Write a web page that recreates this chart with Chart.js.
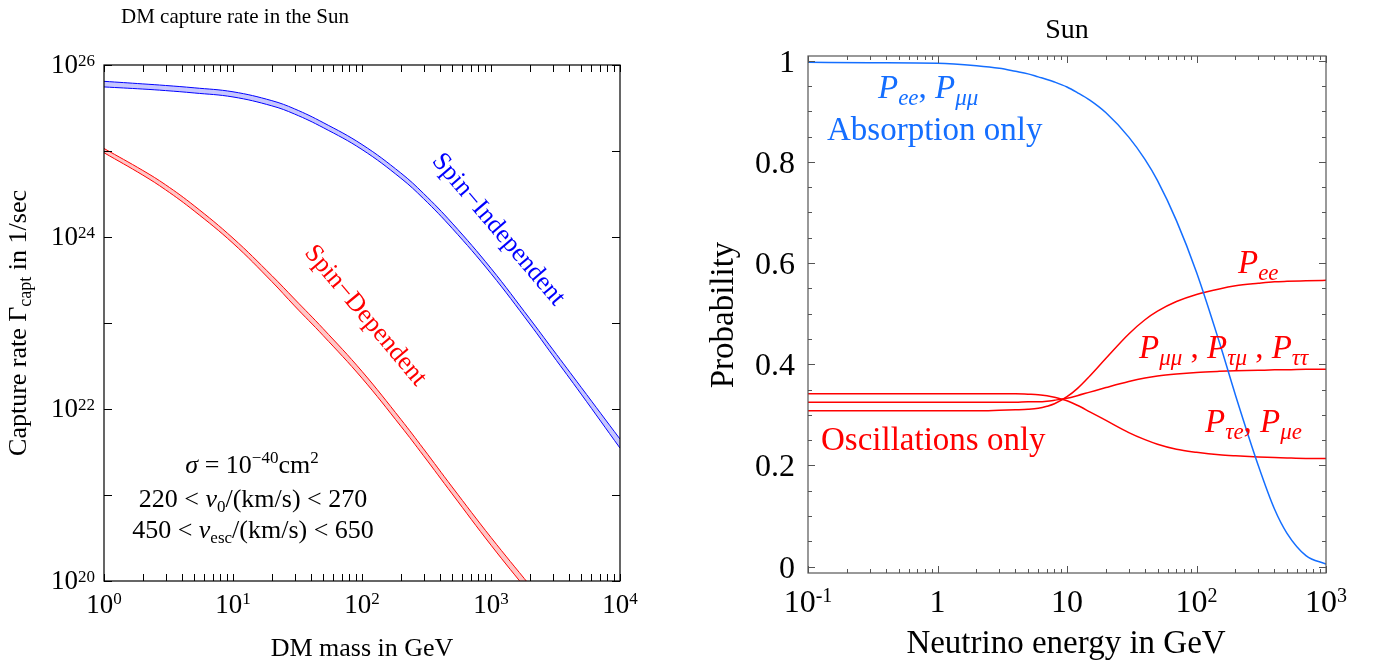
<!DOCTYPE html>
<html>
<head>
<meta charset="utf-8">
<script src="https://cdn.jsdelivr.net/npm/chart.js@4.4.0/dist/chart.umd.min.js"></script>
<style>
  html, body { margin: 0; padding: 0; background: #fff; }
  #wrap { position: relative; width: 1374px; height: 665px; }
  canvas { position: absolute; top: 0; }
  #left { left: 0; }
  #right { left: 687px; }
</style>
</head>
<body>
<div id="wrap">
  <canvas id="left" width="687" height="665"></canvas>
  <canvas id="right" width="687" height="665"></canvas>
</div>
<script>
// left panel: DM capture rate (1/sec) vs DM mass (GeV), bands = upper/lower edge
const massGeV = [1, 2, 3, 5, 10, 20, 30, 50, 100, 200, 300, 500, 1000, 2000, 3000, 5000, 10000];
const siUpper = [6.46e25, 6.03e25, 5.78e25, 5.43e25, 4.88e25, 3.85e25, 3.09e25, 2.14e25, 1.19e25, 5.55e24, 3.21e24, 1.45e24, 4.32e23, 1.12e23, 4.97e22, 1.79e22, 4.47e21];
const siLower = [5.56e25, 5.25e25, 5.04e25, 4.73e25, 4.25e25, 3.35e25, 2.69e25, 1.87e25, 1.04e25, 4.83e24, 2.79e24, 1.26e24, 3.76e23, 9.73e22, 4.23e22, 1.49e22, 3.51e21];
const sdMass = [1, 2, 3, 5, 10, 20, 30, 50, 100, 200, 300, 500, 1000, 2000];
const sdUpper = [1.07e25, 5.94e24, 4.05e24, 2.31e24, 9.7e23, 3.56e23, 1.90e23, 8.59e22, 2.74e22, 7.59e21, 3.44e21, 1.24e21, 3.21e20, 8.9e19];
const sdLower = [9.55e24, 5.24e24, 3.54e24, 2.01e24, 8.45e23, 3.03e23, 1.58e23, 7.14e22, 2.28e22, 6.31e21, 2.86e21, 1.03e21, 2.61e20, 7.14e19];

const leftXTicks = [1, 10, 100, 1000, 10000];
const leftXExp = ['0', '1', '2', '3', '4'];
const leftYTicks = [1e20, 1e22, 1e24, 1e26];
const leftYExp = ['20', '22', '24', '26'];

// right panel: probabilities vs neutrino energy (GeV)
const energyGeV = [0.1, 0.3, 1, 2, 3, 4, 5, 6, 7, 8, 10, 12, 15, 20, 30, 40, 50, 70, 100, 150, 200, 300, 400, 500, 700, 1000];
const absorption = [0.997, 0.996, 0.995, 0.990, 0.985, 0.979, 0.974, 0.968, 0.963, 0.958, 0.948, 0.937, 0.922, 0.897, 0.849, 0.805, 0.763, 0.684, 0.582, 0.444, 0.339, 0.200, 0.114, 0.066, 0.022, 0.005];
const pEE = [0.308, 0.308, 0.308, 0.308, 0.309, 0.310, 0.311, 0.313, 0.317, 0.322, 0.336, 0.352, 0.377, 0.412, 0.460, 0.488, 0.505, 0.524, 0.538, 0.549, 0.555, 0.560, 0.563, 0.564, 0.565, 0.566];
const pMuMu = [0.325, 0.325, 0.325, 0.325, 0.325, 0.325, 0.326, 0.326, 0.327, 0.329, 0.333, 0.338, 0.345, 0.354, 0.366, 0.373, 0.377, 0.381, 0.384, 0.386, 0.387, 0.388, 0.389, 0.389, 0.390, 0.390];
const pTauE = [0.342, 0.342, 0.342, 0.342, 0.342, 0.342, 0.341, 0.340, 0.338, 0.335, 0.328, 0.319, 0.306, 0.289, 0.265, 0.251, 0.242, 0.232, 0.226, 0.221, 0.219, 0.217, 0.216, 0.215, 0.214, 0.214];

const rightXTicks = [0.1, 1, 10, 100, 1000];
const rightXLabels = [['10', '-1'], ['1', ''], ['10', ''], ['10', '2'], ['10', '3']];
const rightYTicks = [0, 0.2, 0.4, 0.6, 0.8, 1];
const rightYLabels = ['0', '0.2', '0.4', '0.6', '0.8', '1'];

const FONT = '"Liberation Serif", "Times New Roman", serif';
const BLUE = '#0000ff', RED = '#ff0000', SKY = 'rgb(20,110,255)';

function fnt(size, italic) {
  return (italic ? 'italic ' : '') + size + 'px ' + FONT;
}

function pts(xs, ys) {
  return xs.map((x, i) => ({ x, y: ys[i] }));
}

// parts: [text, size, italic, dy]
function richWidth(ctx, parts) {
  let w = 0;
  for (const p of parts) {
    ctx.font = fnt(p[1], p[2]);
    w += ctx.measureText(p[0]).width;
  }
  return w;
}

function drawRich(ctx, parts, x, y, align) {
  const w = richWidth(ctx, parts);
  let cx = align === 'center' ? x - w / 2 : align === 'right' ? x - w : x;
  ctx.textAlign = 'left';
  ctx.textBaseline = 'alphabetic';
  for (const p of parts) {
    ctx.font = fnt(p[1], p[2]);
    ctx.fillText(p[0], cx, y + (p[3] || 0));
    cx += ctx.measureText(p[0]).width;
  }
}

function drawRotated(ctx, parts, cx, cy, deg) {
  ctx.save();
  ctx.translate(cx, cy);
  ctx.rotate(deg * Math.PI / 180);
  drawRich(ctx, parts, 0, 0, 'center');
  ctx.restore();
}

function line(ctx, x1, y1, x2, y2) {
  ctx.beginPath();
  ctx.moveTo(x1, y1);
  ctx.lineTo(x2, y2);
  ctx.stroke();
}

function logMinor(min, max) {
  const out = [];
  for (let d = min; d < max; d *= 10) {
    for (let k = 1; k < 10; k++) out.push(d * k);
  }
  out.push(max);
  return out;
}

// italic P with a subscript
function P(sub) {
  return [['P', 33, true, 0], [sub, 23, true, 7]];
}

const leftDecor = {
  id: 'leftDecor',
  afterDatasetsDraw(chart) {
    const { ctx, chartArea: a, scales: { x, y } } = chart;
    ctx.save();
    ctx.strokeStyle = '#000';
    ctx.lineWidth = 1.2;
    ctx.strokeRect(a.left, a.top, a.right - a.left, a.bottom - a.top);

    ctx.lineWidth = 1;
    for (const v of logMinor(1, 10000)) {
      const px = Math.round(x.getPixelForValue(v)) + 0.5;
      line(ctx, px, a.bottom, px, a.bottom - 7);
      line(ctx, px, a.top, px, a.top + 7);
    }
    for (let e = 20; e <= 26; e++) {
      const py = Math.round(y.getPixelForValue(Math.pow(10, e))) + 0.5;
      line(ctx, a.left, py, a.left + 8, py);
      line(ctx, a.right, py, a.right - 8, py);
    }

    ctx.fillStyle = '#000';
    leftXTicks.forEach((v, i) => {
      drawRich(ctx, [['10', 27, false, 0], [leftXExp[i], 17, false, -9]], x.getPixelForValue(v), 613, 'center');
    });
    leftYTicks.forEach((v, i) => {
      drawRich(ctx, [['10', 27, false, 0], [leftYExp[i], 17, false, -7]], a.left - 9, y.getPixelForValue(v) + 8, 'right');
    });

    drawRich(ctx, [['DM capture rate in the Sun', 21, false, 0]], 235, 23, 'center');
    drawRich(ctx, [['DM mass in GeV', 26, false, 0]], 362, 656, 'center');
    drawRotated(ctx, [['Capture rate \u0393', 26, false, 0], ['capt', 18, false, 5], [' in 1/sec', 26, false, 0]], 26, 323, -90);

    drawRich(ctx, [['\u03c3', 26, true, 0], [' = 10', 26, false, 0], ['\u221240', 17, false, -10], ['cm', 26, false, 0], ['2', 17, false, -10]], 252, 473, 'center');
    drawRich(ctx, [['220 < ', 26, false, 0], ['v', 26, true, 0], ['0', 17, false, 5], ['/(km/s) < 270', 26, false, 0]], 253, 507, 'center');
    drawRich(ctx, [['450 < ', 26, false, 0], ['v', 26, true, 0], ['esc', 17, false, 5], ['/(km/s) < 650', 26, false, 0]], 253, 538, 'center');

    ctx.fillStyle = BLUE;
    drawRotated(ctx, [['Spin\u2212Independent', 26, false, 0]], 493, 234, 49.6);
    ctx.fillStyle = RED;
    drawRotated(ctx, [['Spin\u2212Dependent', 26, false, 0]], 360, 320, 49.9);
    ctx.restore();
  }
};

const rightDecor = {
  id: 'rightDecor',
  afterDatasetsDraw(chart) {
    const { ctx, chartArea: a, scales: { x, y } } = chart;
    ctx.save();
    ctx.strokeStyle = '#555';
    ctx.lineWidth = 1.2;
    ctx.strokeRect(a.left, a.top, a.right - a.left, a.bottom - a.top);

    ctx.lineWidth = 1;
    const majors = new Set(rightXTicks);
    for (const v of logMinor(0.1, 1000)) {
      const px = Math.round(x.getPixelForValue(v)) + 0.5;
      const len = majors.has(v) ? 7 : 4;
      line(ctx, px, a.bottom, px, a.bottom - len);
      line(ctx, px, a.top, px, a.top + len);
    }
    for (let k = 0; k <= 20; k++) {
      const py = Math.round(y.getPixelForValue(k * 0.05)) + 0.5;
      const len = k % 4 === 0 ? 7 : 4;
      line(ctx, a.left, py, a.left + len, py);
      line(ctx, a.right, py, a.right - len, py);
    }

    ctx.fillStyle = '#000';
    rightXTicks.forEach((v, i) => {
      const lab = rightXLabels[i];
      drawRich(ctx, [[lab[0], 32, false, 0], [lab[1], 20, false, -10]], x.getPixelForValue(v), 612, 'center');
    });
    rightYTicks.forEach((v, i) => {
      drawRich(ctx, [[rightYLabels[i], 32, false, 0]], 108, y.getPixelForValue(v) + 11, 'right');
    });

    drawRich(ctx, [['Sun', 28, false, 0]], 380, 38, 'center');
    drawRich(ctx, [['Neutrino energy in GeV', 33, false, 0]], 379, 653, 'center');
    drawRotated(ctx, [['Probability', 33, false, 0]], 46, 315, -90);

    const comma = [', ', 33, false, 0];
    const spacedComma = [' , ', 33, false, 0];
    ctx.fillStyle = SKY;
    drawRich(ctx, [...P('ee'), comma, ...P('\u03bc\u03bc')], 191, 98, 'left');
    drawRich(ctx, [['Absorption only', 33, false, 0]], 140, 140, 'left');

    ctx.fillStyle = RED;
    drawRich(ctx, P('ee'), 551, 273, 'left');
    drawRich(ctx, [...P('\u03bc\u03bc'), spacedComma, ...P('\u03c4\u03bc'), spacedComma, ...P('\u03c4\u03c4')], 452, 358, 'left');
    drawRich(ctx, [...P('\u03c4e'), comma, ...P('\u03bce')], 518, 432, 'left');
    drawRich(ctx, [['Oscillations only', 33, false, 0]], 134, 450, 'left');
    ctx.restore();
  }
};

function makeChart(id, datasets, xOpts, yOpts, padding, plugin, lineOpts) {
  return new Chart(document.getElementById(id), {
    type: 'line',
    data: { datasets },
    options: {
      responsive: false,
      animation: false,
      layout: { padding },
      plugins: { legend: { display: false }, tooltip: { enabled: false } },
      elements: { point: { radius: 0 }, line: lineOpts },
      scales: {
        x: Object.assign({ display: false }, xOpts),
        y: Object.assign({ display: false }, yOpts)
      }
    },
    plugins: [plugin]
  });
}

makeChart('left', [
  { data: pts(massGeV, siUpper), borderColor: BLUE, borderWidth: 1, fill: false },
  { data: pts(massGeV, siLower), borderColor: BLUE, borderWidth: 1, fill: '-1', backgroundColor: 'rgba(0,0,255,0.22)' },
  { data: pts(sdMass, sdUpper), borderColor: RED, borderWidth: 1, fill: false },
  { data: pts(sdMass, sdLower), borderColor: RED, borderWidth: 1, fill: '-1', backgroundColor: 'rgba(255,0,0,0.22)' }
], { type: 'logarithmic', min: 1, max: 10000 },
   { type: 'logarithmic', min: 1e20, max: 1e26 },
   { left: 104, top: 65, right: 67, bottom: 84 }, leftDecor, { tension: 0.4 });

makeChart('right', [
  { data: pts(energyGeV, absorption), borderColor: SKY, borderWidth: 1.5, fill: false },
  { data: pts(energyGeV, pEE), borderColor: RED, borderWidth: 1.5, fill: false },
  { data: pts(energyGeV, pMuMu), borderColor: RED, borderWidth: 1.5, fill: false },
  { data: pts(energyGeV, pTauE), borderColor: RED, borderWidth: 1.5, fill: false }
], { type: 'logarithmic', min: 0.1, max: 1000 },
   { type: 'linear', min: -0.0125, max: 1.0093 },
   { left: 121, top: 56, right: 48, bottom: 92 }, rightDecor, { cubicInterpolationMode: 'monotone' });
</script>
</body>
</html>
